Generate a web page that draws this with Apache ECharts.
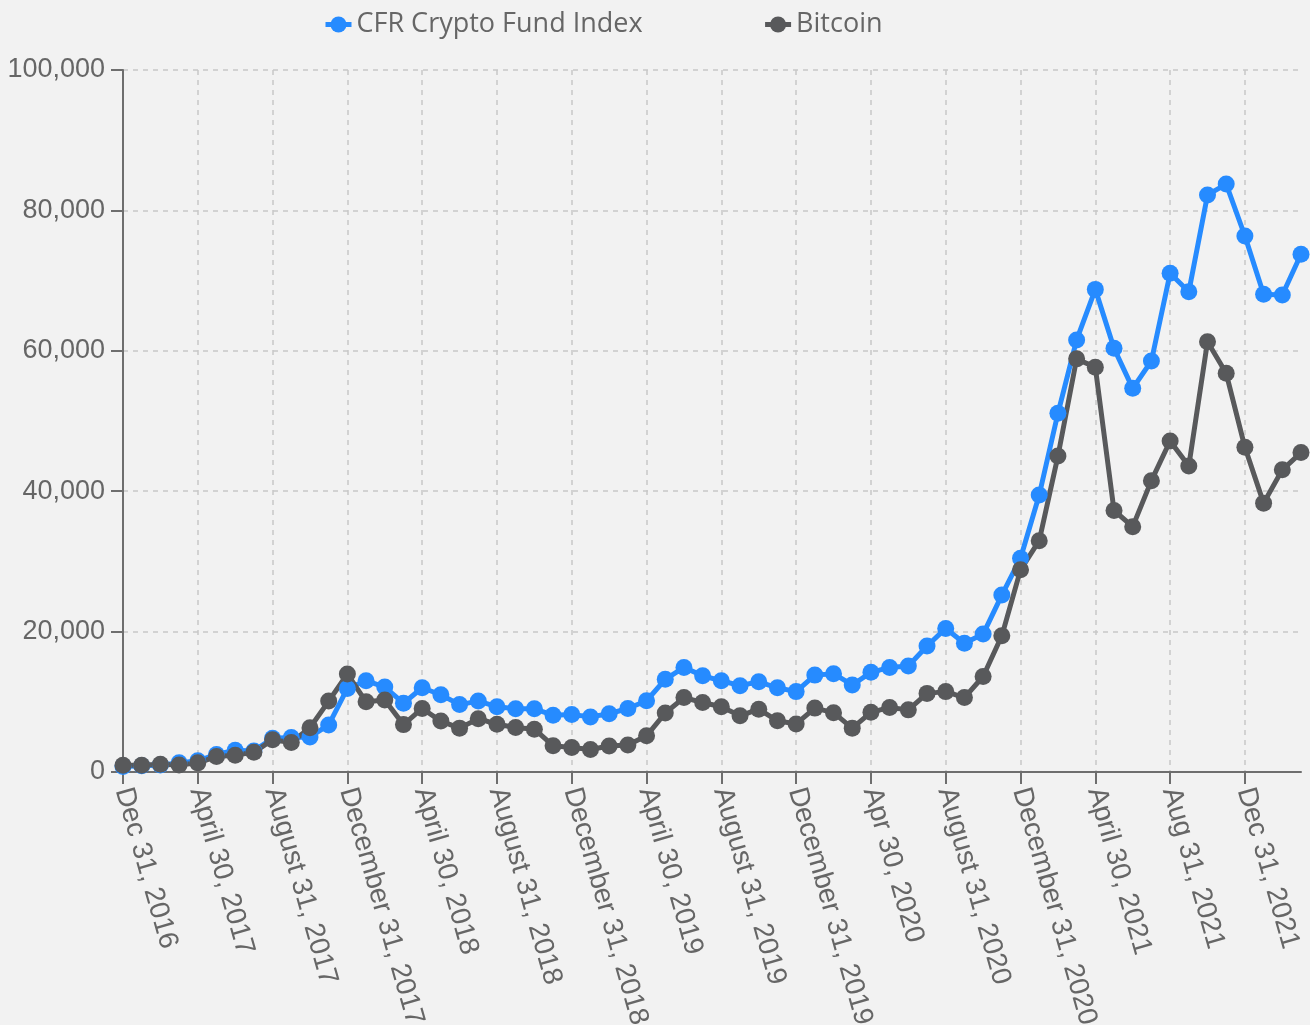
<!DOCTYPE html>
<html>
<head>
<meta charset="utf-8">
<title>CFR Crypto Fund Index vs Bitcoin</title>
<script src="https://cdn.jsdelivr.net/npm/echarts@6.0.0/dist/echarts.min.js"></script>
<style>
  html, body { margin: 0; padding: 0; background: #f2f2f2; }
  #chart { width: 1310px; height: 1025px; }
</style>
</head>
<body>
<div id="chart"></div>
<script>
// month-end dates, Dec 2016 - Mar 2022
var categories = [
  'Dec 31, 2016', 'Jan 31, 2017', 'Feb 28, 2017', 'Mar 31, 2017',
  'April 30, 2017', 'May 31, 2017', 'Jun 30, 2017', 'Jul 31, 2017',
  'August 31, 2017', 'Sep 30, 2017', 'Oct 31, 2017', 'Nov 30, 2017',
  'December 31, 2017', 'Jan 31, 2018', 'Feb 28, 2018', 'Mar 31, 2018',
  'April 30, 2018', 'May 31, 2018', 'Jun 30, 2018', 'Jul 31, 2018',
  'August 31, 2018', 'Sep 30, 2018', 'Oct 31, 2018', 'Nov 30, 2018',
  'December 31, 2018', 'Jan 31, 2019', 'Feb 28, 2019', 'Mar 31, 2019',
  'April 30, 2019', 'May 31, 2019', 'Jun 30, 2019', 'Jul 31, 2019',
  'August 31, 2019', 'Sep 30, 2019', 'Oct 31, 2019', 'Nov 30, 2019',
  'December 31, 2019', 'Jan 31, 2020', 'Feb 29, 2020', 'Mar 31, 2020',
  'Apr 30, 2020', 'May 31, 2020', 'Jun 30, 2020', 'Jul 31, 2020',
  'August 31, 2020', 'Sep 30, 2020', 'Oct 31, 2020', 'Nov 30, 2020',
  'December 31, 2020', 'Jan 31, 2021', 'Feb 28, 2021', 'Mar 31, 2021',
  'April 30, 2021', 'May 31, 2021', 'Jun 30, 2021', 'Jul 31, 2021',
  'Aug 31, 2021', 'Sep 30, 2021', 'Oct 31, 2021', 'Nov 30, 2021',
  'Dec 31, 2021', 'Jan 31, 2022', 'Feb 28, 2022', 'Mar 31, 2022'
]

var cfrIndex = [
  800, 900, 1000, 1300, 1600, 2500, 3100, 3000, 4800, 4900, 5000, 6700, 11900,
  13000, 12100, 9800, 12000, 11000, 9600, 10100, 9300, 9000, 9000, 8100, 8200, 7850, 8300,
  9050, 10150, 13200, 14900, 13700, 13000, 12300, 12850, 12000, 11450, 13800, 14000,
  12400, 14200, 14900, 15100, 17950, 20450, 18350, 19650, 25200, 30450, 39450, 51100,
  61550, 68750, 60350, 54650, 58550, 71050, 68400, 82200, 83750, 76350, 68050, 67950, 73750
]

var bitcoin = [
  960, 970, 1100, 1000, 1300, 2200, 2400, 2800, 4600, 4200, 6300, 10100, 13960,
  10000, 10250, 6750, 9050, 7250, 6250, 7600, 6800, 6350, 6100, 3750, 3500, 3200, 3700,
  3850, 5150, 8400, 10600, 9900, 9300, 8000, 8950, 7300, 6850, 9100, 8450,
  6250, 8500, 9200, 8850, 11200, 11450, 10600, 13600, 19400, 28800, 32950, 45000,
  58850, 57650, 37250, 34950, 41500, 47150, 43600, 61300, 56800, 46250, 38300, 43050, 45500
]

var yMax = 100000
var yStep = 20000

var axisGrey = '#6e6e6e'
var textGrey = '#666666'

var myChart = echarts.init(document.getElementById('chart'))

var option = {
  backgroundColor: '#f2f2f2',
  animation: false,
  color: ['#268bff', '#58595b'],
  legend: {
    left: 318,
    top: 6,
    itemWidth: 26,
    itemHeight: 20,
    itemGap: 120,
    lineStyle: { width: 5 },
    textStyle: {
      fontFamily: 'Open Sans',
      fontSize: 27,
      color: textGrey
    },
    data: ['CFR Crypto Fund Index', 'Bitcoin']
  },
  grid: {
    left: 123,
    right: 9,
    top: 70,
    bottom: 253,
    outerBoundsMode: 'none'
  },
  xAxis: {
    type: 'category',
    boundaryGap: false,
    data: categories,
    axisLine: {
      lineStyle: { color: axisGrey, width: 2 }
    },
    axisTick: {
      interval: 3,
      length: 12,
      lineStyle: { color: axisGrey, width: 2 }
    },
    axisLabel: {
      interval: 3,
      rotate: -74,
      margin: 16,
      padding: [0, 0, 16, 0],
      color: textGrey,
      fontFamily: 'Liberation Sans',
      fontSize: 28
    },
    splitLine: {
      show: true,
      interval: 3,
      lineStyle: { color: '#c8c8c8', width: 1.5, type: [5, 5] }
    }
  },
  yAxis: {
    type: 'value',
    min: 0,
    max: yMax,
    interval: yStep,
    axisLine: {
      show: true,
      lineStyle: { color: axisGrey, width: 2 }
    },
    axisTick: {
      show: true,
      length: 12,
      lineStyle: { color: axisGrey, width: 2 }
    },
    axisLabel: {
      margin: 18,
      color: textGrey,
      fontFamily: 'Liberation Sans',
      fontSize: 27,
      formatter: function (v) {
        return v.toLocaleString('en-US')
      }
    },
    splitLine: {
      lineStyle: { color: '#c8c8c8', width: 1.5, type: [5, 5] }
    }
  },
  series: [
    {
      name: 'CFR Crypto Fund Index',
      type: 'line',
      data: cfrIndex,
      symbol: 'circle',
      symbolSize: 17,
      showAllSymbol: true,
      lineStyle: { width: 5 }
    },
    {
      name: 'Bitcoin',
      type: 'line',
      data: bitcoin,
      symbol: 'circle',
      symbolSize: 17,
      showAllSymbol: true,
      lineStyle: { width: 5 }
    }
  ]
}

myChart.setOption(option)
</script>
</body>
</html>
